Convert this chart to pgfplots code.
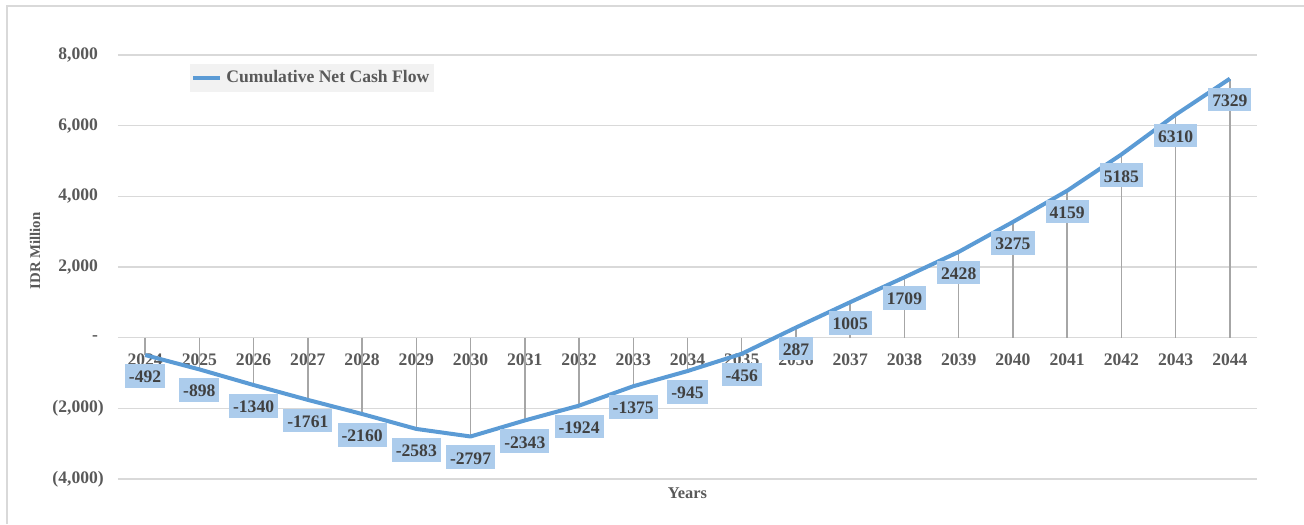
\documentclass[border=0pt]{standalone}
\usepackage{fontspec}
\setmainfont{Liberation Serif}
\usepackage{pgfplots}
\usepackage{pgfplotstable}
\pgfplotsset{compat=1.18}
\definecolor{cline}{HTML}{5B9BD5}
\definecolor{lblfill}{RGB}{172,204,236}
\definecolor{gridc}{HTML}{D9D9D9}
\definecolor{dropc}{HTML}{A6A6A6}
\definecolor{txt}{HTML}{595959}
\definecolor{dtxt}{HTML}{404040}
\definecolor{legf}{HTML}{F2F2F2}
\newcommand{\cf}{\bfseries\fontsize{8.8}{10.5}\selectfont}

\pgfplotstableread{
x y lab
0 -492 -492
1 -898 -898
2 -1340 -1340
3 -1761 -1761
4 -2160 -2160
5 -2583 -2583
6 -2797 -2797
7 -2343 -2343
8 -1924 -1924
9 -1375 -1375
10 -945 -945
11 -456 -456
12 287 287
13 1005 1005
14 1709 1709
15 2428 2428
16 3275 3275
17 4159 4159
18 5185 5185
19 6310 6310
20 7329 7329
}\data

\begin{document}
\begin{tikzpicture}
\path[use as bounding box] (-59pt,-22.5pt) rectangle (593pt,239.5pt);
\begin{axis}[
  at={(0,0)}, anchor=south west,
  scale only axis, width=569.5pt, height=212pt,
  xmin=-0.5, xmax=20.5, ymin=-4000, ymax=8000,
  axis x line=middle, axis y line=left,
  axis line style={draw=none},
  major tick length=0pt,
  xtick={0,1,2,3,4,5,6,7,8,9,10,11,12,13,14,15,16,17,18,19,20},
  xticklabels={2024,2025,2026,2027,2028,2029,2030,2031,2032,2033,2034,2035,2036,2037,2038,2039,2040,2041,2042,2043,2044},
  xticklabel style={font=\cf, text=txt, anchor=north, yshift=-4.5pt},
  ytick={-4000,-2000,0,2000,4000,6000,8000},
  yticklabels={{\textbf{(4,000\rlap{)}}},{\textbf{(2,000\rlap{)}}},{\textbf{-\hspace{1.5pt}}},{\textbf{2,000}},{\textbf{4,000}},{\textbf{6,000}},{\textbf{8,000}}},
  yticklabel style={font=\cf, text=txt, anchor=east, xshift=-6.5pt},
  ymajorgrids, grid style={gridc, line width=0.75pt},
  legend style={at={(axis description cs:0.0632,0.979)}, anchor=north west, fill=legf, draw=none, font=\cf, text=txt, inner xsep=0.5pt, inner ysep=1.2pt},
  legend image code/.code={\draw[#1] (0pt,0pt) -- (13.5pt,0pt);},
  clip=false,
]
\addplot[ycomb, dropc, line width=0.75pt, forget plot] table[x=x, y=y] {\data};
\addplot[cline, line width=2pt, line join=round, mark=none,
  point meta=explicit symbolic,
  nodes near coords,
  every node near coord/.append style={font=\cf, text=dtxt, fill=lblfill, anchor=north, yshift=-3.5pt, inner xsep=2pt, inner ysep=2.5pt, text height=0.68em, text depth=0pt}
] table[x=x, y=y, meta=lab] {\data};
\addlegendentry{Cumulative Net Cash Flow}
\node[font=\bfseries\fontsize{8.2}{10}\selectfont, text=txt, anchor=center] at (axis description cs:0.5,-0.033) {Years};
\node[font=\bfseries\fontsize{7.4}{9}\selectfont, text=txt, anchor=center, rotate=90] at (axis description cs:-0.0729,0.538) {IDR Million};
\end{axis}
\draw[gridc, line width=0.75pt] (-55.5pt,-22.5pt) -- (-55.5pt,236.5pt) -- (593pt,236.5pt);
\end{tikzpicture}
\end{document}
